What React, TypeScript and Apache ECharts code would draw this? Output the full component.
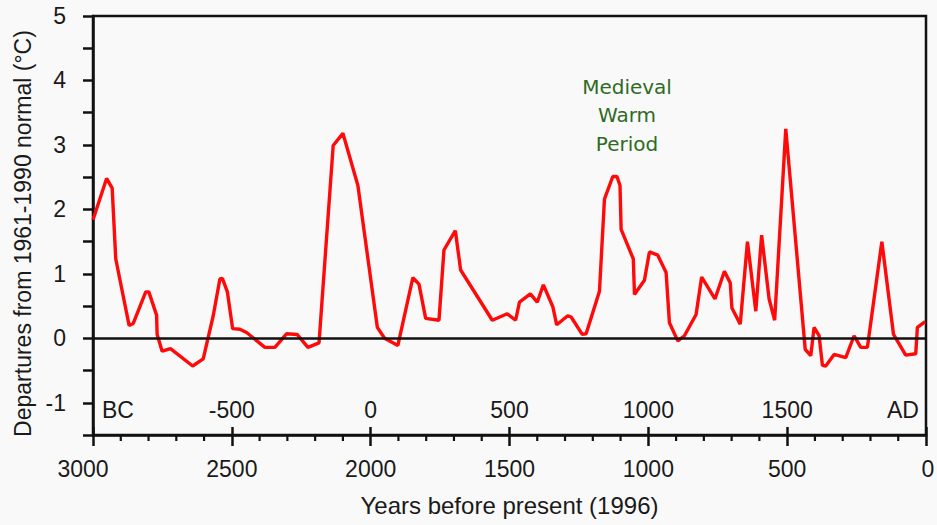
import React, { useEffect, useRef } from "react";
import * as echarts from "echarts";

// Years before present (1996)
const yearsBP = [
  3000, 2951, 2931, 2918, 2870, 2855, 2810, 2799, 2771, 2769, 2751, 2721, 2641, 2603,
  2567, 2543, 2534, 2516, 2497, 2471, 2447, 2381, 2345, 2303, 2265, 2226, 2186, 2135,
  2100, 2046, 1976, 1950, 1902, 1848, 1826, 1802, 1754, 1736, 1695, 1676, 1562, 1508,
  1478, 1464, 1425, 1400, 1378, 1344, 1330, 1290, 1278, 1238, 1224, 1176, 1158, 1128,
  1113, 1102, 1098, 1054, 1050, 1014, 996, 966, 936, 924, 894, 870, 828, 808, 760, 726,
  705, 699, 669, 643, 613, 592, 565, 545, 505, 435, 415, 403, 385, 373, 361, 331, 289,
  259, 235, 211, 159, 117, 73, 37, 31, 3,
];
// Departures from 1961-1990 normal (°C)
const departures = [
  1.84, 2.48, 2.33, 1.23, 0.2, 0.23, 0.72, 0.72, 0.36, 0.06, -0.2, -0.16, -0.43, -0.32,
  0.35, 0.92, 0.93, 0.72, 0.15, 0.14, 0.09, -0.14, -0.14, 0.07, 0.06, -0.14, -0.07, 2.99,
  3.18, 2.37, 0.17, 0.0, -0.11, 0.94, 0.84, 0.31, 0.28, 1.37, 1.67, 1.06, 0.28, 0.38,
  0.28, 0.56, 0.69, 0.56, 0.83, 0.49, 0.21, 0.35, 0.33, 0.06, 0.07, 0.73, 2.16, 2.51,
  2.51, 2.37, 1.69, 1.23, 0.68, 0.9, 1.34, 1.29, 1.02, 0.24, -0.04, 0.04, 0.37, 0.95, 0.61, 1.04,
  0.86, 0.47, 0.22, 1.5, 0.42, 1.6, 0.61, 0.28, 3.25, -0.17, -0.27, 0.17, 0.04, -0.42, -0.43, -0.25, -0.3,
  0.04, -0.14, -0.14, 1.5, 0.06, -0.26, -0.24, 0.17, 0.26,
];

// Tick labels of the inner calendar axis (keyed by years before present)
const bpTicks = [3000, 2500, 2000, 1500, 1000, 500, 0];
const calendarLabels = ["BC", "-500", "0", "500", "1000", "1500", "AD"];
// Minor tick positions on the years-before-present axis
const minorTickYears = [
  2900, 2800, 2700, 2600, 2400, 2300, 2200, 2100, 1900, 1800, 1700, 1600,
  1400, 1300, 1200, 1100, 900, 800, 700, 600, 400, 300, 200, 100,
];

const annotationLines = ["Medieval", "Warm", "Period"];

export default function App() {
  const ref = useRef<HTMLDivElement>(null);

  useEffect(() => {
    document.body.style.margin = "0";
    if (!ref.current) return;
    const chart = echarts.init(ref.current, null, { renderer: "svg" });
    const font = "'Liberation Sans', Arial, Helvetica, sans-serif";
    const data = yearsBP.map((x, i) => [x, departures[i]]);
    const ink = "#1a1a1a";
    const yMin = -1.5;

    chart.setOption({
      animation: false,
      backgroundColor: "#f9f9f9",
      textStyle: { fontFamily: font },
      grid: {
        left: 93,
        right: 11,
        top: 16,
        bottom: 90,
        outerBoundsMode: "none",
        containLabel: false,
        show: true,
        borderColor: "#111",
        borderWidth: 2.5,
        backgroundColor: "transparent",
      },
      xAxis: [
        {
          type: "value",
          min: 0,
          max: 3000,
          interval: 500,
          inverse: true,
          position: "bottom",
          name: "Years before present (1996)",
          nameLocation: "middle",
          nameGap: 58,
          nameTextStyle: { fontSize: 24, color: ink, fontFamily: font },
          axisLine: { show: true, onZero: false, lineStyle: { color: "#111", width: 2.5 } },
          axisTick: { show: true, length: 11, lineStyle: { color: "#111", width: 2.5 } },
          splitLine: { show: false },
          axisLabel: {
            fontSize: 23,
            color: ink,
            margin: 22,
            showMinLabel: true,
            showMaxLabel: true,
            fontFamily: font,
            formatter: (v: number) => {
              if (v === 3000) return "{a|" + v + "}";
              if (v === 0) return "{b|" + v + "}";
              return String(v);
            },
            rich: {
              a: { fontSize: 23, color: ink, fontFamily: font, padding: [0, 20, 0, 0] },
              b: { fontSize: 23, color: ink, fontFamily: font, padding: [0, 0, 0, 4] },
            },
          },
        },
        {
          type: "value",
          min: 0,
          max: 3000,
          interval: 500,
          inverse: true,
          position: "bottom",
          axisLine: { show: false, onZero: false },
          axisTick: { show: true, inside: true, length: 8, lineStyle: { color: "#111", width: 2.5 } },
          splitLine: { show: false },
          axisLabel: {
            inside: true,
            fontSize: 23,
            color: ink,
            margin: 14,
            showMinLabel: true,
            showMaxLabel: true,
            fontFamily: font,
            formatter: (v: number) => {
              const i = bpTicks.indexOf(v);
              if (i < 0) return "";
              const t = calendarLabels[i];
              if (i === 0) return "{l|" + t + "}";
              if (i === bpTicks.length - 1) return "{r|" + t + "}";
              return t;
            },
            rich: {
              l: { fontSize: 23, color: ink, fontFamily: font, padding: [0, 0, 0, 50] },
              r: { fontSize: 23, color: ink, fontFamily: font, padding: [0, 46, 0, 0] },
            },
          },
        },
      ],
      yAxis: {
        type: "value",
        min: yMin,
        max: 5,
        interval: 0.5,
        name: "Departures from 1961-1990 normal (°C)",
        nameLocation: "middle",
        nameGap: 54,
        nameTextStyle: { fontSize: 23, color: ink, fontFamily: font, padding: [0, 16, 0, 0] },
        axisLine: { show: true, onZero: false, lineStyle: { color: "#111", width: 2.5 } },
        axisTick: { show: true, length: 10, lineStyle: { color: "#111", width: 2.5 } },
        splitLine: { show: false },
        axisLabel: {
          fontSize: 23,
          color: ink,
          margin: 27,
          fontFamily: font,
          formatter: (v: number) => (Number.isInteger(v) ? String(v) : ""),
        },
      },
      graphic: [
        {
          type: "text",
          x: 627,
          y: 115,
          style: {
            text: annotationLines.join("\n"),
            fontSize: 20,
            lineHeight: 28.5,
            fontFamily: "'DejaVu Sans', Verdana, sans-serif",
            fill: "#2e6b1f",
            textAlign: "center",
            textVerticalAlign: "middle",
          },
          silent: true,
        },
      ],
      series: [
        {
          type: "line",
          xAxisIndex: 0,
          data,
          symbol: "none",
          lineStyle: { color: "#ff0a0a", width: 3.4 },
          markLine: {
            silent: true,
            symbol: "none",
            label: { show: false },
            lineStyle: { color: "#111", width: 2.5, type: "solid" },
            data: [{ yAxis: 0 }],
          },
          z: 3,
        },
        {
          type: "custom",
          xAxisIndex: 0,
          silent: true,
          clip: false,
          data: minorTickYears.map((v) => [v, yMin]),
          encode: { x: 0, y: 1 },
          renderItem: (params: any, api: any) => {
            const p = api.coord([api.value(0), api.value(1)]);
            return {
              type: "line",
              shape: { x1: p[0], y1: p[1], x2: p[0], y2: p[1] + 6 },
              style: { stroke: "#111", lineWidth: 2.2 },
            };
          },
          z: 4,
        },
      ],
    });

    return () => chart.dispose();
  }, []);

  return <div ref={ref} style={{ width: 937, height: 525 }} />;
}
